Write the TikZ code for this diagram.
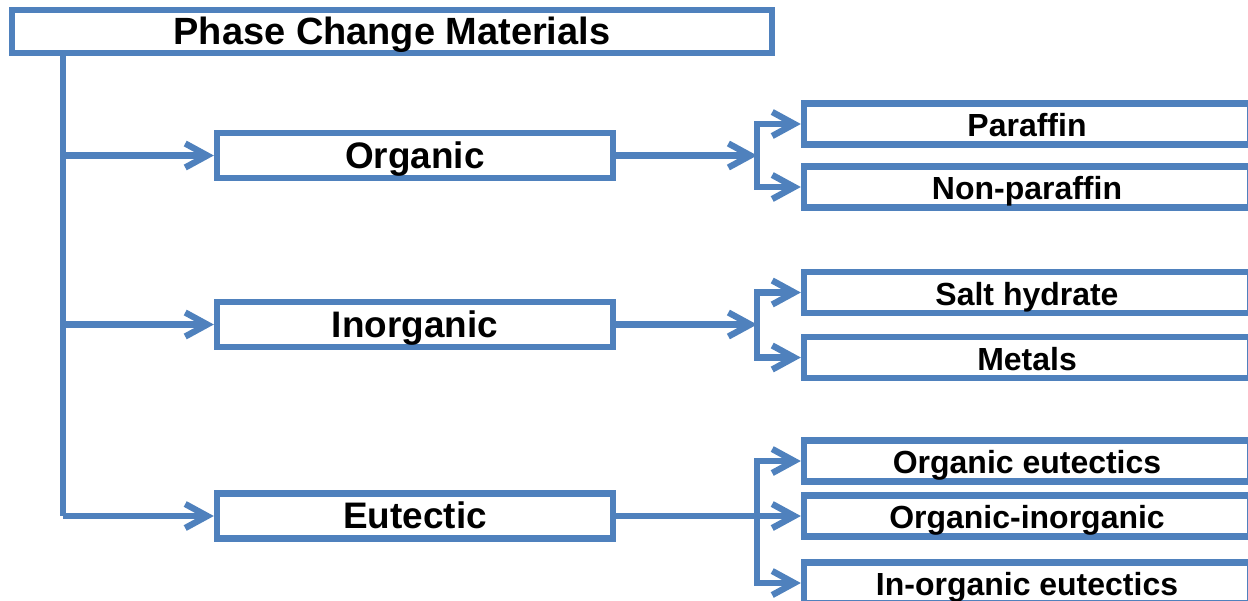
\documentclass[tikz,border=0pt]{standalone}
\usepackage{fontspec}
\setmainfont{Liberation Sans}
\usetikzlibrary{arrows.meta}
\definecolor{pcmblue}{RGB}{79,129,189}

\begin{document}
\begin{tikzpicture}[>={Straight Barb[length=2.2mm,width=2.4mm]}, y=-1cm,
		box/.style={draw=pcmblue, line width=1.8pt, fill=white, inner sep=0pt, text height=1.38ex, text depth=0pt},
		link/.style={pcmblue, line width=1.8pt}]
	\useasboundingbox (0,0) rectangle (12.48,6);
	\node[box, minimum width=7.6cm, minimum height=0.43cm, font=\bfseries\fontsize{10.8}{13}\selectfont] (pcm) at (3.92,0.315) {Phase Change Materials};
	\foreach \name/\txt/\y in {org/Organic/1.555, inorg/Inorganic/3.245, eut/Eutectic/5.16} {
			\node[box, minimum width=3.96cm, minimum height=0.45cm, font=\bfseries\fontsize{10.5}{12}\selectfont] (\name) at (4.15,\y) {\txt};
			\coordinate (s-\name) at (0.63,\y);
			\coordinate (b-\name) at (7.57,\y);
			\draw[link, ->] (s-\name) -- (\name.west);
		}
	\draw[link] (pcm.south -| s-org) -- (s-eut);
	\foreach \name/\txt/\y in {par/Paraffin/1.24, npar/Non-paraffin/1.87, salt/Salt hydrate/2.925, met/Metals/3.575,
			oeut/Organic eutectics/4.61, oin/Organic-inorganic/5.16, ieut/In-organic eutectics/5.83} {
			\node[box, minimum width=4.46cm, minimum height=0.41cm, font=\bfseries\fontsize{9.1}{11}\selectfont] (\name) at (10.27,\y) {\txt};
		}
	% branches
	\draw[link, ->] (org.east) -- (b-org);
	\draw[link, ->] (inorg.east) -- (b-inorg);
	\draw[link] (eut.east) -- (b-eut);
	\foreach \from/\to in {org/par, org/npar, inorg/salt, inorg/met, eut/oeut, eut/oin, eut/ieut} {
			\draw[link, ->] (b-\from) |- (\to.west);
		}
\end{tikzpicture}
\end{document}
